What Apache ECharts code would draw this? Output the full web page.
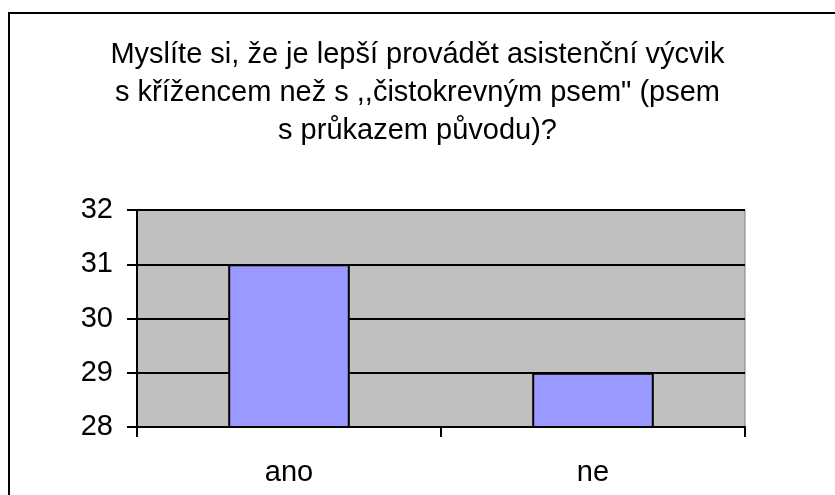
<!DOCTYPE html>
<html>
<head>
<meta charset="utf-8">
<script src="https://cdn.jsdelivr.net/npm/echarts@6/dist/echarts.min.js"></script>
<style>
  html, body { margin: 0; padding: 0; background: #fff; }
  #chart { width: 835px; height: 495px; }
</style>
</head>
<body>
<div id="chart"></div>
<script>
// data
const categories = ['ano', 'ne'];
const answers = [31, 29];
const yTicks = [28, 29, 30, 31, 32];

const titleText = 'Myslíte si, že je lepší provádět asistenční výcvik\n' +
    's křížencem než s ,,čistokrevným psem" (psem\n' +
    's průkazem původu)?';

const myChart = echarts.init(document.getElementById('chart'));

const option = {
    animation: false,
    backgroundColor: '#fff',
    textStyle: {
        fontFamily: 'Liberation Sans, Arial, sans-serif',
        color: '#000'
    },
    title: {
        text: titleText,
        left: 'center',
        top: 31,
        textStyle: {
            fontSize: 29,
            fontWeight: 'normal',
            lineHeight: 38,
            color: '#000',
            align: 'center'
        }
    },
    // outer frame of the chart area (cut at right and bottom)
    graphic: [{
        type: 'rect',
        shape: { x: 9, y: 13, width: 900, height: 600 },
        style: { fill: 'none', stroke: '#000', lineWidth: 2 },
        silent: true
    }],
    grid: {
        left: 137,
        right: 90,
        top: 210,
        bottom: 68,
        show: true,
        backgroundColor: '#c0c0c0',
        borderColor: '#808080',
        borderWidth: 1
    },
    xAxis: {
        type: 'category',
        data: categories,
        axisLine: { show: true, lineStyle: { color: '#000', width: 2 } },
        axisTick: { show: true, length: 10, lineStyle: { color: '#000', width: 2 } },
        axisLabel: { fontSize: 29, color: '#000', margin: 31 },
        splitLine: { show: false }
    },
    yAxis: {
        type: 'value',
        min: yTicks[0],
        max: yTicks[yTicks.length - 1],
        interval: 1,
        axisLine: { show: true, lineStyle: { color: '#000', width: 2 } },
        axisTick: { show: true, length: 10, lineStyle: { color: '#000', width: 2 } },
        axisLabel: { fontSize: 29, color: '#000', margin: 24 },
        splitLine: { show: true, lineStyle: { color: '#000', width: 2 } }
    },
    series: [{
        type: 'bar',
        data: answers,
        barWidth: '40%',
        itemStyle: {
            color: '#9999ff',
            borderColor: '#000',
            borderWidth: 2
        }
    }]
};

myChart.setOption(option);
</script>
</body>
</html>
